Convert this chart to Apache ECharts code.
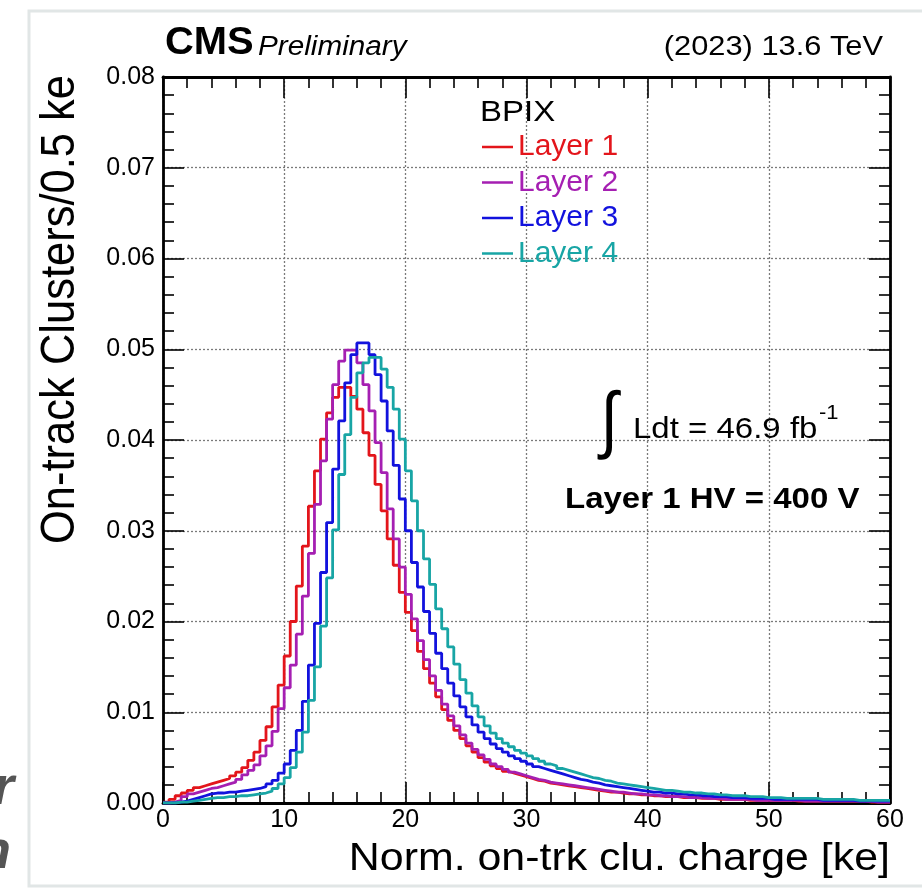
<!DOCTYPE html>
<html>
<head>
<meta charset="utf-8">
<script src="https://cdn.jsdelivr.net/npm/echarts@6/dist/echarts.min.js"></script>
<style>
html,body{margin:0;padding:0;background:#ffffff;}
#chart{width:922px;height:889px;}
</style>
</head>
<body>
<div id="chart"></div>
<script>
// ---- data (bin width 0.5 ke, bins start at 0) ----
const binWidth = 0.5;
const xTickValues = [0, 10, 20, 30, 40, 50, 60];
const yTickValues = [0, 0.01, 0.02, 0.03, 0.04, 0.05, 0.06, 0.07, 0.08];

const layer1 = [
0.0001,0.0004,0.0008,0.0011,0.0014,0.0017,0.0019,0.0021,0.0023,0.0025,
0.0027,0.0030,0.0034,0.0039,0.0047,0.0056,0.0069,0.0084,0.0106,0.0130,
0.0162,0.0200,0.0239,0.0283,0.0327,0.0366,0.0401,0.0430,0.0447,0.0458,
0.0458,0.0448,0.0434,0.0408,0.0383,0.0351,0.0322,0.0291,0.0262,0.0232,
0.0210,0.0190,0.0167,0.0148,0.0132,0.0117,0.0103,0.0091,0.0080,0.0071,
0.0063,0.0056,0.0050,0.0045,0.0041,0.0038,0.0035,0.0033,0.0031,0.0029,
0.0027,0.0025,0.0024,0.0022,0.0021,0.0020,0.0019,0.0018,0.0017,0.0016,
0.0015,0.0014,0.0013,0.0012,0.0012,0.0011,0.0010,0.0010,0.0009,0.0009,
0.0008,0.0008,0.0007,0.0007,0.0007,0.0006,0.0006,0.0006,0.0005,0.0005,
0.0005,0.0004,0.0004,0.0004,0.0004,0.0004,0.0003,0.0003,0.0003,0.0003,
0.0003,0.0003,0.0003,0.0003,0.0002,0.0002,0.0002,0.0002,0.0002,0.0002,
0.0002,0.0002,0.0002,0.0002,0.0002,0.0002,0.0001,0.0001,0.0001,0.0001
];

const layer2 = [
0.0000,0.0001,0.0003,0.0007,0.0010,0.0012,0.0014,0.0016,0.0017,0.0019,
0.0021,0.0023,0.0026,0.0031,0.0036,0.0042,0.0052,0.0063,0.0079,0.0104,
0.0127,0.0152,0.0186,0.0228,0.0275,0.0329,0.0377,0.0423,0.0461,0.0487,
0.0499,0.0499,0.0485,0.0461,0.0432,0.0397,0.0364,0.0324,0.0291,0.0260,
0.0230,0.0203,0.0179,0.0158,0.0140,0.0124,0.0109,0.0096,0.0085,0.0075,
0.0066,0.0059,0.0053,0.0048,0.0043,0.0040,0.0037,0.0034,0.0032,0.0030,
0.0028,0.0026,0.0025,0.0023,0.0022,0.0021,0.0020,0.0019,0.0018,0.0017,
0.0016,0.0015,0.0014,0.0013,0.0012,0.0012,0.0011,0.0010,0.0010,0.0009,
0.0009,0.0008,0.0008,0.0007,0.0007,0.0007,0.0006,0.0006,0.0006,0.0005,
0.0005,0.0005,0.0004,0.0004,0.0004,0.0004,0.0004,0.0003,0.0003,0.0003,
0.0003,0.0003,0.0003,0.0003,0.0003,0.0002,0.0002,0.0002,0.0002,0.0002,
0.0002,0.0002,0.0002,0.0002,0.0002,0.0002,0.0002,0.0001,0.0001,0.0001
];

const layer3 = [
0.0000,0.0000,0.0001,0.0002,0.0004,0.0006,0.0008,0.0010,0.0011,0.0011,
0.0012,0.0012,0.0013,0.0014,0.0015,0.0016,0.0018,0.0021,0.0025,0.0033,
0.0043,0.0058,0.0080,0.0112,0.0152,0.0198,0.0254,0.0309,0.0368,0.0421,
0.0463,0.0494,0.0507,0.0507,0.0494,0.0472,0.0443,0.0410,0.0372,0.0335,
0.0300,0.0265,0.0238,0.0211,0.0187,0.0165,0.0148,0.0132,0.0118,0.0106,
0.0095,0.0086,0.0078,0.0071,0.0065,0.0060,0.0056,0.0052,0.0049,0.0046,
0.0043,0.0040,0.0038,0.0036,0.0034,0.0032,0.0030,0.0028,0.0026,0.0025,
0.0023,0.0022,0.0020,0.0019,0.0018,0.0017,0.0016,0.0015,0.0014,0.0013,
0.0012,0.0012,0.0011,0.0011,0.0010,0.0010,0.0009,0.0009,0.0008,0.0008,
0.0007,0.0007,0.0007,0.0006,0.0006,0.0006,0.0005,0.0005,0.0005,0.0005,
0.0004,0.0004,0.0004,0.0004,0.0004,0.0004,0.0004,0.0004,0.0003,0.0003,
0.0003,0.0003,0.0003,0.0003,0.0002,0.0002,0.0002,0.0002,0.0002,0.0002
];

const layer4 = [
0.0000,0.0000,0.0001,0.0001,0.0002,0.0003,0.0004,0.0005,0.0006,0.0006,
0.0007,0.0007,0.0008,0.0008,0.0009,0.0010,0.0011,0.0013,0.0016,0.0021,
0.0028,0.0039,0.0056,0.0078,0.0113,0.0150,0.0195,0.0248,0.0301,0.0362,
0.0406,0.0447,0.0474,0.0485,0.0491,0.0491,0.0478,0.0458,0.0434,0.0401,
0.0366,0.0333,0.0300,0.0269,0.0241,0.0214,0.0192,0.0172,0.0153,0.0136,
0.0121,0.0107,0.0095,0.0085,0.0077,0.0071,0.0066,0.0062,0.0058,0.0055,
0.0052,0.0049,0.0046,0.0043,0.0041,0.0038,0.0036,0.0034,0.0032,0.0030,
0.0028,0.0027,0.0025,0.0024,0.0022,0.0021,0.0020,0.0019,0.0018,0.0017,
0.0016,0.0015,0.0014,0.0014,0.0013,0.0012,0.0012,0.0011,0.0011,0.0010,
0.0010,0.0009,0.0009,0.0008,0.0008,0.0008,0.0007,0.0007,0.0007,0.0006,
0.0006,0.0006,0.0005,0.0005,0.0005,0.0005,0.0005,0.0005,0.0004,0.0004,
0.0004,0.0004,0.0004,0.0004,0.0003,0.0003,0.0003,0.0003,0.0003,0.0003
];

const seriesNames = ['Layer 1', 'Layer 2', 'Layer 3', 'Layer 4'];
const seriesValues = [layer1, layer2, layer3, layer4];
const seriesColors = ['#e3151b', '#a51fb2', '#1212dd', '#18a5a5'];

// ---- build ----
const FONT = '"Liberation Sans", Arial, Helvetica, sans-serif';

function toSteps(vals) {
  const pts = vals.map((v, i) => [i * binWidth, v]);
  pts.push([vals.length * binWidth, vals[vals.length - 1]]);
  return pts;
}

const chart = echarts.init(document.getElementById('chart'), null, {renderer: 'canvas'});

const xMin = xTickValues[0], xMax = xTickValues[xTickValues.length - 1];
const xInt = xTickValues[1] - xTickValues[0];
const yMin = yTickValues[0], yMax = yTickValues[yTickValues.length - 1];
const yInt = yTickValues[1] - yTickValues[0];

const frameLine = {show: true, onZero: false, lineStyle: {color: '#000', width: 2.8}};
const majorTick = {show: true, inside: true, length: 21, lineStyle: {color: '#000', width: 1.6}};
const minorTick = {show: true, splitNumber: 5, length: 11, lineStyle: {color: '#000', width: 1.6}};
const gridDots = {show: true, lineStyle: {color: '#7a7a7a', width: 1.3, type: [2, 2]}};

function textEl(text, x, y, size, opts) {
  opts = opts || {};
  return {
    type: 'text', x: x, y: y, silent: true, z: 50,
    rotation: opts.rotation || 0,
    scaleX: opts.scaleX || 1, scaleY: opts.scaleY || 1,
    style: {
      text: text, fill: opts.color || '#000',
      font: (opts.style || 'normal') + ' ' + (opts.weight || 'normal') + ' ' + size + 'px ' + FONT,
      align: opts.align || 'left', verticalAlign: 'middle'
    }
  };
}

const option = {
  backgroundColor: '#ffffff',
  animation: false,
  grid: {left: 163, top: 77, width: 727, height: 726, containLabel: false, outerBoundsMode: 'none', show: false},
  legend: {
    show: true, orient: 'vertical', left: 482, top: 132, itemGap: 5.5,
    itemWidth: 31, itemHeight: 2.5, icon: 'rect', selectedMode: false,
    padding: 0,
    textStyle: {fontSize: 30, fontFamily: FONT, padding: [0, 0, 0, 0]},
    data: seriesNames.map((n, i) => ({name: n, textStyle: {color: seriesColors[i]}}))
  },
  xAxis: [
    {type: 'value', min: xMin, max: xMax, interval: xInt, position: 'bottom',
     axisLine: frameLine, axisTick: majorTick, minorTick: minorTick,
     axisLabel: {show: true, fontSize: 25, color: '#000', fontFamily: FONT, margin: 5, showMinLabel: true, showMaxLabel: true},
     splitLine: gridDots},
    {type: 'value', min: xMin, max: xMax, interval: xInt, position: 'top',
     axisLine: frameLine, axisTick: majorTick, minorTick: minorTick,
     axisLabel: {show: false}, splitLine: {show: false}}
  ],
  yAxis: [
    {type: 'value', min: yMin, max: yMax, interval: yInt, position: 'left',
     axisLine: frameLine, axisTick: majorTick, minorTick: minorTick,
     axisLabel: {show: true, fontSize: 25, color: '#000', fontFamily: FONT, margin: 8, showMinLabel: true, showMaxLabel: true,
       formatter: v => v.toFixed(2)},
     splitLine: gridDots},
    {type: 'value', min: yMin, max: yMax, interval: yInt, position: 'right',
     axisLine: frameLine, axisTick: majorTick, minorTick: minorTick,
     axisLabel: {show: false}, splitLine: {show: false}}
  ],
  series: seriesNames.map((n, i) => ({
    name: n, type: 'line', step: 'end', xAxisIndex: 0, yAxisIndex: 0,
    showSymbol: false, symbol: 'none', clip: true,
    color: seriesColors[i],
    lineStyle: {color: seriesColors[i], width: 2.8},
    emphasis: {disabled: true},
    data: toSteps(seriesValues[i]),
    z: 3 + i
  })),
  graphic: [
    {type: 'rect', silent: true, z: 0,
     shape: {x: 29, y: 11, width: 905, height: 875},
     style: {fill: 'none', stroke: '#e1e6e6', lineWidth: 3}},
    textEl('r', 14, 789, 54, {style: 'italic', weight: 'bold', color: '#555', align: 'right'}),
    textEl('n', 11, 853, 54, {style: 'italic', weight: 'bold', color: '#555', align: 'right'}),
    textEl('CMS', 165, 44, 38, {weight: 'bold', scaleX: 1.05}),
    textEl('Preliminary', 258, 47.5, 27, {style: 'italic', scaleX: 1.1}),
    textEl('(2023) 13.6 TeV', 883, 47, 28, {align: 'right', scaleX: 1.1}),
    textEl('BPIX', 480, 112.5, 30, {scaleX: 1.1}),
    textEl('\u222B', 609, 424, 74, {align: 'center', scaleX: 0.85}),
    textEl('Ldt = 46.9 fb', 633, 429.5, 30, {scaleX: 1.1}),
    textEl('-1', 819, 413, 20, {scaleX: 1.1}),
    textEl('Layer 1 HV = 400 V', 565, 499.5, 30, {weight: 'bold', scaleX: 1.1}),
    textEl('Norm. on-trk clu. charge [ke]', 890, 859.5, 39, {align: 'right', scaleX: 1.1}),
    textEl('On-track Clusters/0.5 ke', 61, 75, 43.5, {align: 'right', rotation: Math.PI / 2, scaleY: 1.1})
  ]
};

chart.setOption(option);
</script>
</body>
</html>
